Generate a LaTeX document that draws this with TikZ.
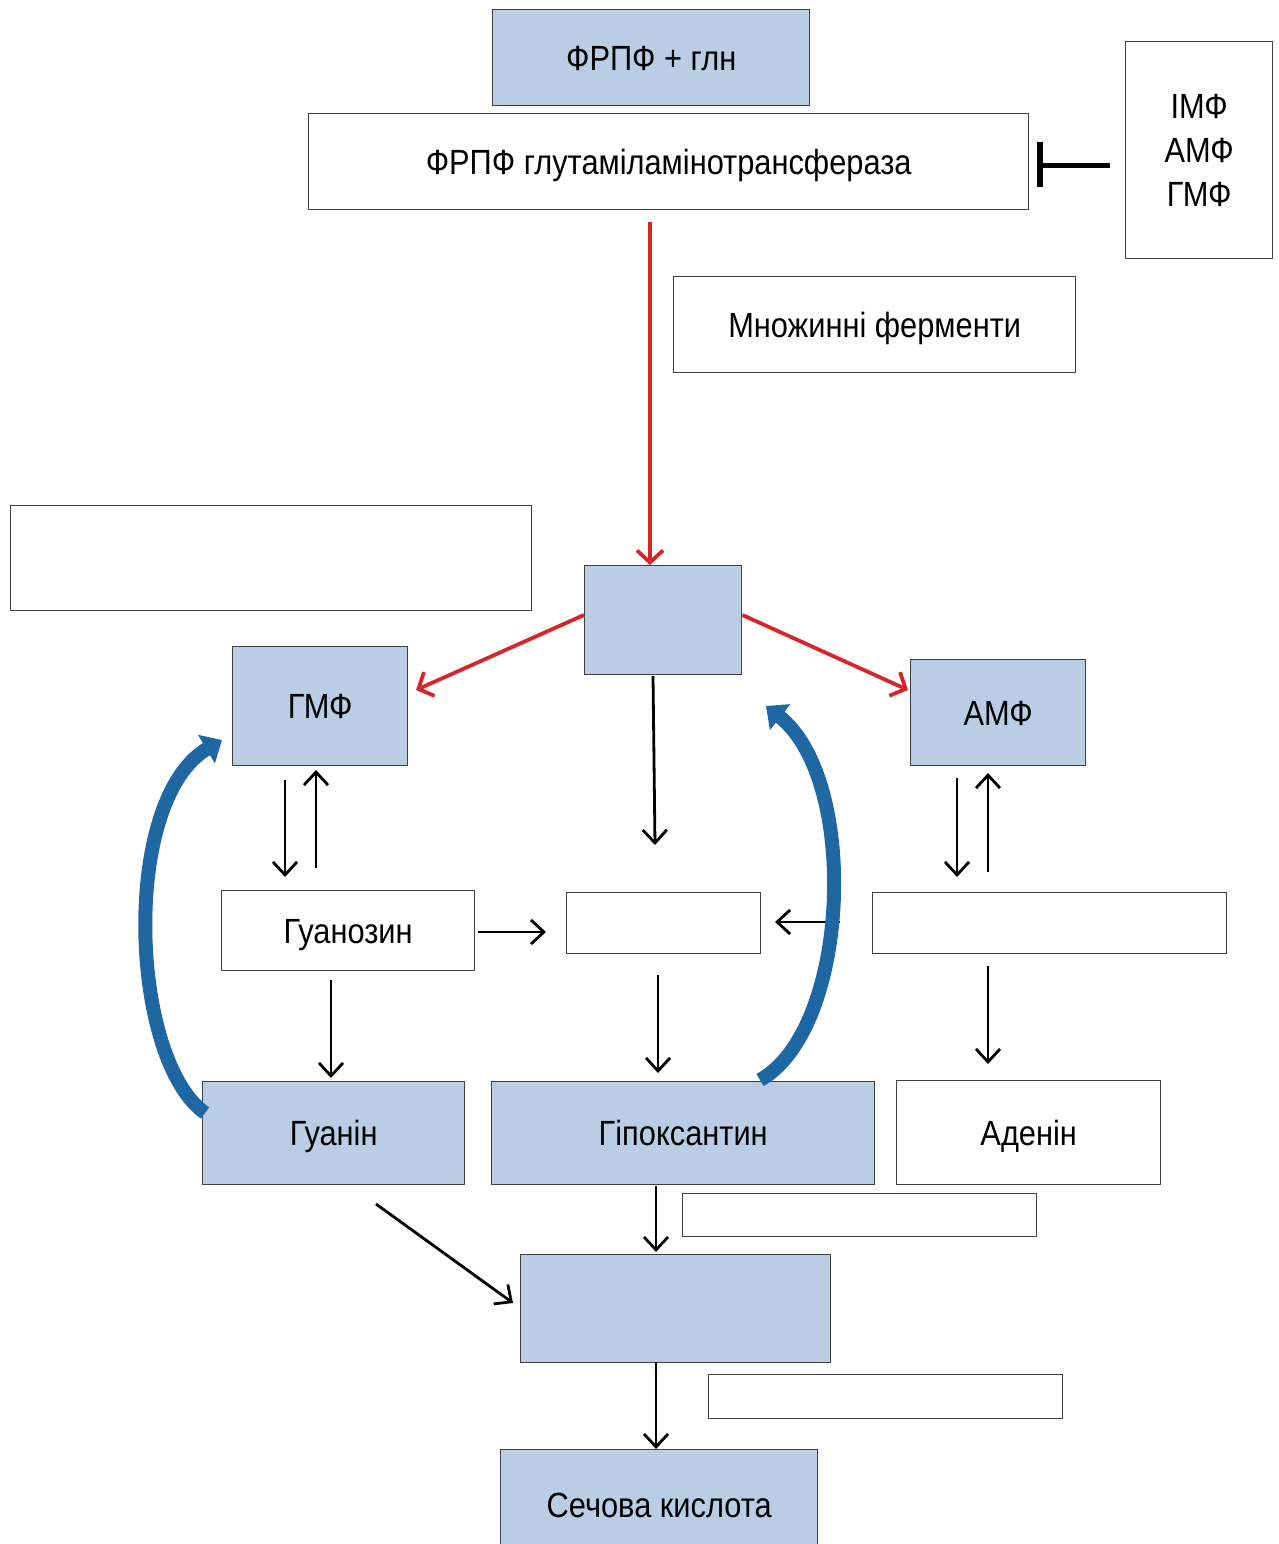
\documentclass[tikz,border=0pt]{standalone}
\usepackage{fontspec}
\setmainfont{Liberation Sans}[FakeStretch=0.88]
\usetikzlibrary{arrows.meta}
\definecolor{boxblue}{HTML}{B9CDE5}
\definecolor{boxline}{HTML}{404040}
\definecolor{pathred}{HTML}{D7262B}
\definecolor{loopblue}{HTML}{1F67A3}
\begin{document}
\begin{tikzpicture}[x=1pt,y=-1pt,
  base/.style={draw=boxline, line width=1.4pt, anchor=north west, inner sep=0pt,
    font=\fontsize{35}{40}\selectfont, align=center, text height=25pt, text depth=0pt},
  bluebox/.style={base, fill=boxblue},
  whitebox/.style={base, fill=white},
  flow/.style={line width=2.8pt, -{Straight Barb[length=13pt,width=24pt,line width=2.8pt]}},
  redflow/.style={draw=pathred, line width=3.8pt, -{Straight Barb[length=12pt,width=26pt,line width=3.8pt]}},
  loop/.style={draw=loopblue, line width=14pt, -{Triangle[length=18pt,width=32pt]}}
]
\useasboundingbox (0,0) rectangle (1279,1544);

% boxes
\node[bluebox, minimum width=317, minimum height=96] (frpf) at (492,9) {ФРПФ + глн};
\node[whitebox, minimum width=720, minimum height=96] (enz) at (308,113) {ФРПФ глутаміламінотрансфераза};
\node[whitebox, minimum width=147, minimum height=217, text height=, text depth=,
  font=\fontsize{35}{44}\selectfont] (inh) at (1125,41) {ІМФ\\АМФ\\ГМФ};
\node[whitebox, minimum width=402, minimum height=96] (mult) at (673,276) {Множинні ферменти};
\node[whitebox, minimum width=521, minimum height=105] (blank1) at (10,505) {};
\node[bluebox, minimum width=157, minimum height=109] (imp) at (584,565) {};
\node[bluebox, minimum width=175, minimum height=119] (gmp) at (232,646) {ГМФ};
\node[bluebox, minimum width=175, minimum height=106] (amp) at (910,659) {АМФ};
\node[whitebox, minimum width=253, minimum height=80] (guo) at (221,890) {Гуанозин};
\node[whitebox, minimum width=194, minimum height=61] (ino) at (566,892) {};
\node[whitebox, minimum width=354, minimum height=61] (ado) at (872,892) {};
\node[bluebox, minimum width=262, minimum height=103] (gua) at (202,1081) {Гуанін};
\node[bluebox, minimum width=383, minimum height=103] (hyp) at (491,1081) {Гіпоксантин};
\node[whitebox, minimum width=264, minimum height=104] (ade) at (896,1080) {Аденін};
\node[whitebox, minimum width=354, minimum height=43] (blank2) at (682,1193) {};
\node[bluebox, minimum width=310, minimum height=108] (xan) at (520,1254) {};
\node[whitebox, minimum width=354, minimum height=44] (blank3) at (708,1374) {};
\node[bluebox, minimum width=317, minimum height=110] (uric) at (500,1449) {Сечова кислота};

% feedback inhibition
\coordinate (inhS) at (1110,165);
\coordinate (inhE) at (1040,165);
\draw[line width=5pt] (inhS) -- (inhE);
\draw[line width=6pt] ([yshift=-22]inhE) -- ([yshift=23]inhE);

% main red pathway
\draw[redflow] (650,222) -- (imp.north -| 650,0);
\draw[redflow] (imp.west |- 0,615) -- (416,690);
\draw[redflow] (imp.east |- 0,615) -- (908,690);

% black reactions
\draw[flow] (653,676) -- (655,845);
\draw[flow] (285,780) -- (285,877);
\draw[flow] (316,868) -- (316,770);
\draw[flow] (957,778) -- (957,877);
\draw[flow] (988,872) -- (988,773);
\draw[flow] (478,932) -- (546,932);
\draw[flow] (840,922) -- (775,922);
\draw[flow] (331,980) -- (331,1078);
\draw[flow] (658,975) -- (658,1073);
\draw[flow] (988,966) -- (988,1064);
\draw[flow] (656,1186) -- (656,1252);
\draw[flow] (376,1204) -- (513,1303);
\draw[flow] (656,1362) -- (656,1449);

% salvage loops
\draw[loop] (205,1113) .. controls (130,1060) and (120,800) .. (222,740);
\draw[loop] (760,1080) .. controls (850,1030) and (860,780) .. (766,706);
\end{tikzpicture}
\end{document}
